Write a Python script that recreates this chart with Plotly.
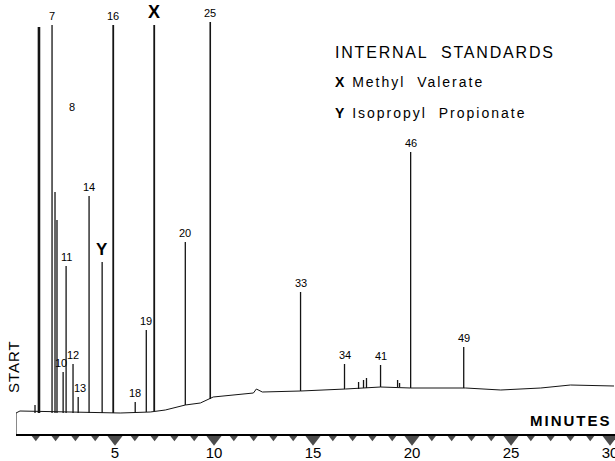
import plotly.graph_objects as go

# ---- data (time in minutes, response in arbitrary units) ----
peak_times = [0.96, 1.16, 1.82, 1.97, 2.07, 2.38, 2.53, 2.88, 3.14, 3.69, 4.35, 4.91,
              6.02, 6.58, 6.98, 8.55, 9.81, 14.37, 16.59, 17.30, 17.55, 17.70,
              18.41, 19.27, 19.37, 19.93, 22.61]
peak_tops = [30, 408, 410, 243, 215, 63, 169, 71, 38, 239, 173, 410,
             33, 105, 410, 193, 413, 143, 71, 53, 55, 57,
             70, 55, 52, 283, 88]
peak_bases = [22, 22, 22, 22, 22, 22, 22, 22, 22, 22, 22, 22,
              23, 23, 24, 30, 36, 44, 46, 46, 47, 47,
              48, 48, 48, 47, 47]
peak_labels = ["", "", "7", "", "8", "10", "11", "12", "13", "14", "Y", "16",
               "18", "19", "X", "20", "25", "33", "34", "", "", "",
               "41", "", "", "46", "49"]

baseline_times = [0.0, 0.0, 0.2, 5.26, 6.78, 7.54, 8.55, 9.31, 9.96, 11.33, 11.99,
                  12.14, 12.44, 14.37, 15.88, 16.64, 18.41, 19.93, 22.71, 24.48,
                  26.5, 28.0, 30.2]
baseline_levels = [0, 22, 24, 22, 23, 25, 30, 32, 38, 41, 42,
                   46, 43, 44, 45, 46, 48, 47, 47, 45,
                   47, 50, 49]

tick_minutes = list(range(1, 31))
tick_labels = ["5", "10", "15", "20", "25", "30"]

standards_title = "INTERNAL\u00a0\u00a0STANDARDS"
standards = [("X", "Methyl\u00a0\u00a0Valerate"), ("Y", "Isopropyl\u00a0\u00a0Propionate")]

# ---- styling ----
INK = "#141414"
FONT = "Liberation Sans"
label_shift = {"8": (15, 104), "10": (-2, 0), "13": (2, 0)}   # pixel nudges for crowded labels
big_labels = {"X": 18, "Y": 17}
heavy_peaks = {1: 2.6, 11: 1.8, 14: 1.8, 16: 1.6}              # stroke width by peak index

fig = go.Figure()

# baseline
fig.add_trace(go.Scatter(x=baseline_times, y=baseline_levels, mode="lines",
                         line=dict(color=INK, width=1), hoverinfo="skip"))

# peaks as vertical strokes
px, py = [], []
for i, (t, b, h) in enumerate(zip(peak_times, peak_bases, peak_tops)):
    if i in heavy_peaks:
        continue
    px += [t, t, None]
    py += [b, h, None]
fig.add_trace(go.Scatter(x=px, y=py, mode="lines",
                         line=dict(color=INK, width=1.3), hoverinfo="skip"))
for i, w in heavy_peaks.items():
    fig.add_trace(go.Scatter(x=[peak_times[i], peak_times[i]],
                             y=[peak_bases[i], peak_tops[i]], mode="lines",
                             line=dict(color=INK, width=w), hoverinfo="skip"))

# minute markers (triangles under the axis)
sizes = [13 if m % 5 == 0 else 7 for m in tick_minutes]
ys = [-4.3 if m % 5 == 0 else -2.8 for m in tick_minutes]
fig.add_trace(go.Scatter(x=tick_minutes, y=ys, mode="markers", cliponaxis=False,
                         marker=dict(symbol="triangle-down", size=sizes, color="#000",
                                     line=dict(width=0)),
                         hoverinfo="skip"))

annotations = []
for t, h, lab in zip(peak_times, peak_tops, peak_labels):
    if not lab:
        continue
    dx, dy = label_shift.get(lab, (0, 0))
    size = big_labels.get(lab, 11)
    text = f"<b>{lab}</b>" if lab in big_labels else lab
    annotations.append(dict(x=t, y=h, text=text, showarrow=False, xanchor="center",
                            yanchor="bottom", xshift=dx, yshift=1 + dy,
                            font=dict(family=FONT, size=size, color="#000")))

annotations.append(dict(x=16.0, y=383, xanchor="left", yanchor="middle", showarrow=False,
                        text=f'<span style="letter-spacing:1.8px">{standards_title}</span>',
                        font=dict(family=FONT, size=16, color="#000")))
for i, (sym, name) in enumerate(standards):
    annotations.append(dict(x=16.0, y=353 - 31 * i, xanchor="left", yanchor="middle",
                            showarrow=False,
                            text=f'<b>{sym}</b>\u00a0\u00a0<span style="letter-spacing:2px">{name}</span>',
                            font=dict(family=FONT, size=14, color="#000")))

annotations.append(dict(x=30.2, y=15, xanchor="right", yanchor="middle", showarrow=False,
                        text='<b><span style="letter-spacing:2px">MINUTES</span></b>',
                        font=dict(family=FONT, size=15, color="#000")))
annotations.append(dict(xref="paper", x=-0.005, y=68, xanchor="center", yanchor="middle",
                        showarrow=False, textangle=-90,
                        text='<span style="letter-spacing:1px">START</span>',
                        font=dict(family=FONT, size=15, color="#000")))

fig.update_layout(
    width=615, height=461,
    margin=dict(l=16, r=0, t=0, b=12),
    paper_bgcolor="white", plot_bgcolor="white",
    showlegend=False,
    annotations=annotations,
    xaxis=dict(range=[0, 30.25], anchor="free", position=14 / 449,
               showline=True, linecolor="#000", linewidth=2,
               tickvals=[5, 10, 15, 20, 25, 30], ticktext=tick_labels,
               ticks="outside", ticklen=4, tickcolor="rgba(0,0,0,0)",
               ticklabeloverflow="allow",
               tickfont=dict(family=FONT, size=15, color="#000"),
               showgrid=False, zeroline=False, automargin=False, fixedrange=True),
    yaxis=dict(range=[-14, 435], showticklabels=False, ticks="", showline=False,
               showgrid=False, zeroline=False, automargin=False, fixedrange=True),
)

fig.write_html("out.html", config={"displayModeBar": False},
               post_script="document.body.style.margin='0';document.body.style.overflow='hidden';")
